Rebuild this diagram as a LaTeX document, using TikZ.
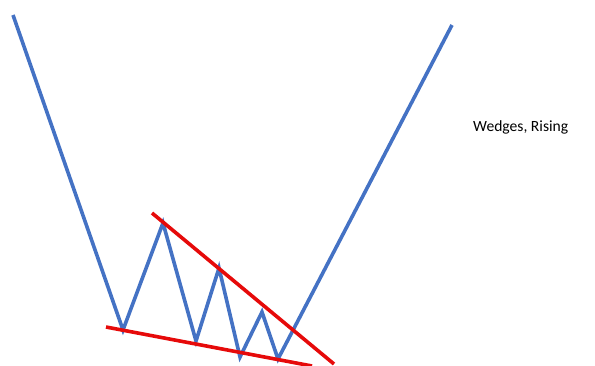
\documentclass[tikz,border=0pt]{standalone}
\usepackage{fontspec}
\setmainfont{Carlito}
\definecolor{wblue}{RGB}{68,114,196}
\definecolor{wred}{RGB}{230,10,10}

\begin{document}
\begin{tikzpicture}[x=1pt, y=-1pt, price/.style={line width=3.6pt, wblue}, trend/.style={line width=3.6pt, wred}]
\useasboundingbox (0,0) rectangle (595,365);
% Points 
\coordinate (s) at (13,15);
\coordinate (b1) at (123,330);
\coordinate (p1) at (163,223);
\coordinate (b2) at (196,341);
\coordinate (p2) at (219,268);
\coordinate (b3) at (240,357);
\coordinate (p3) at (262,312);
\coordinate (b4) at (278,359);
\coordinate (e) at (452,25);
\coordinate (u1) at (152,213);
\coordinate (u2) at (334,364);
\coordinate (l1) at (106,327);
\coordinate (l2) at (312,366);
% Label
\node[draw=none, inner sep=0pt, anchor=west, font=\fontsize{15.6}{18}\selectfont] (lbl) at (473,127) {Wedges, Rising};
% Lines
  \draw[price] (s) -- (b1) -- (p1) -- (b2) -- (p2) -- (b3) -- (p3) -- (b4) -- (e);
  \draw[trend] (u1) -- (u2);
  \draw[trend] (l1) -- (l2);
\end{tikzpicture}
\end{document}
